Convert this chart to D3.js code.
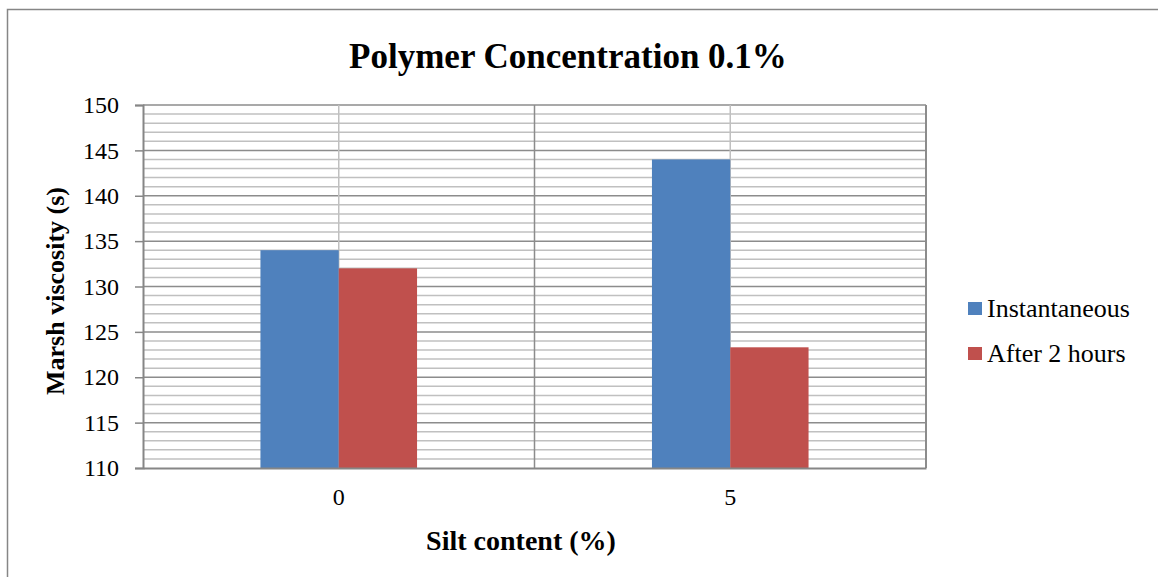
<!DOCTYPE html>
<html>
<head>
<meta charset="utf-8">
<script src="https://cdn.jsdelivr.net/npm/d3@7"></script>
<style>
  body { margin: 0; background: #fff; }
  text { font-family: "Liberation Serif", "Times New Roman", serif; fill: #000; }
</style>
</head>
<body>
<svg id="chart"></svg>
<script>
const categories = ["0", "5"];
const seriesNames = ["Instantaneous", "After 2 hours"];
const instantaneous = [134, 144];
const after2h = [132, 123.3];
const colors = ["#4f81bd", "#c0504d"];
const yTicks = [110, 115, 120, 125, 130, 135, 140, 145, 150];

const W = 1158, H = 577;
const plot = { left: 143, top: 105, right: 926, bottom: 468 };
const serif = '"Liberation Serif", "Times New Roman", serif';

const svg = d3.select("#chart").attr("width", W).attr("height", H);

// outer chart border (cropped on right/bottom)
svg.append("rect")
  .attr("x", 7.5).attr("y", 9.5)
  .attr("width", W).attr("height", H)
  .attr("fill", "none").attr("stroke", "#868686").attr("stroke-width", 1.5);

const y = d3.scaleLinear().domain([110, 150]).range([plot.bottom, plot.top]);
const x0 = d3.scaleBand().domain(categories).range([plot.left, plot.right]);
const bw = x0.bandwidth() / 5;
const x1 = d3.scaleBand().domain(seriesNames).range([0, bw * 2]);

const g = svg.append("g");

// minor gridlines
g.selectAll(".minor").data(d3.range(111, 150).filter(v => v % 5 !== 0))
  .enter().append("line")
  .attr("x1", plot.left).attr("x2", plot.right)
  .attr("y1", d => y(d)).attr("y2", d => y(d))
  .attr("stroke", "#c0c0c0").attr("stroke-width", 1.5);

// major gridlines
g.selectAll(".major").data(yTicks.slice(1))
  .enter().append("line")
  .attr("x1", plot.left).attr("x2", plot.right)
  .attr("y1", d => y(d)).attr("y2", d => y(d))
  .attr("stroke", "#8c8c8c").attr("stroke-width", 1.5);

// vertical gridlines at category centres
g.selectAll(".vc").data(categories)
  .enter().append("line")
  .attr("x1", d => x0(d) + x0.bandwidth() / 2).attr("x2", d => x0(d) + x0.bandwidth() / 2)
  .attr("y1", plot.top).attr("y2", plot.bottom)
  .attr("stroke", "#c0c0c0").attr("stroke-width", 1.5);

// vertical gridlines at category boundaries
g.selectAll(".vb").data(categories.slice(1))
  .enter().append("line")
  .attr("x1", d => x0(d)).attr("x2", d => x0(d))
  .attr("y1", plot.top).attr("y2", plot.bottom)
  .attr("stroke", "#8c8c8c").attr("stroke-width", 1.5);

g.append("line")
  .attr("x1", plot.right).attr("x2", plot.right)
  .attr("y1", plot.top).attr("y2", plot.bottom)
  .attr("stroke", "#8c8c8c").attr("stroke-width", 2);

// bars
const series = [instantaneous, after2h];
series.forEach((vals, si) => {
  g.selectAll(".bar" + si).data(categories)
    .enter().append("rect")
    .attr("x", d => x0(d) + x0.bandwidth() / 2 - bw + x1(seriesNames[si]))
    .attr("y", (d, i) => y(vals[i]))
    .attr("width", x1.bandwidth())
    .attr("height", (d, i) => y(110) - y(vals[i]))
    .attr("fill", colors[si]);
});

// axes
const yAxis = svg.append("g")
  .attr("transform", `translate(${plot.left},0)`)
  .call(d3.axisLeft(y).tickValues(yTicks).tickSize(8).tickPadding(16));
yAxis.attr("font-family", serif);
yAxis.select(".domain").attr("stroke", "#868686").attr("stroke-width", 2);
yAxis.selectAll(".tick line").attr("stroke", "#868686").attr("stroke-width", 1.5);
yAxis.selectAll("text").style("font-size", "24px");

const xAxis = svg.append("g")
  .attr("transform", `translate(0,${plot.bottom})`)
  .call(d3.axisBottom(x0).tickSize(0).tickPadding(20));
xAxis.attr("font-family", serif);
xAxis.select(".domain").attr("stroke", "#868686").attr("stroke-width", 2);
xAxis.selectAll("text").style("font-size", "24px");

// titles
svg.append("text")
  .attr("x", 568).attr("y", 68)
  .attr("text-anchor", "middle")
  .style("font-size", "35px").style("font-weight", "bold")
  .text("Polymer Concentration 0.1%");

svg.append("text")
  .attr("x", 521).attr("y", 550)
  .attr("text-anchor", "middle")
  .style("font-size", "28px").style("font-weight", "bold")
  .text("Silt content (%)");

svg.append("text")
  .attr("transform", `translate(64,291) rotate(-90)`)
  .attr("text-anchor", "middle")
  .style("font-size", "26px").style("font-weight", "bold")
  .text("Marsh viscosity (s)");

// legend
const legend = svg.append("g").attr("transform", "translate(968,302)");
seriesNames.forEach((name, i) => {
  const row = legend.append("g").attr("transform", `translate(0,${i * 45})`);
  row.append("rect").attr("width", 14).attr("height", 13).attr("fill", colors[i]);
  row.append("text").attr("x", 19).attr("y", 15)
    .style("font-size", "26px").text(name);
});
</script>
</body>
</html>
